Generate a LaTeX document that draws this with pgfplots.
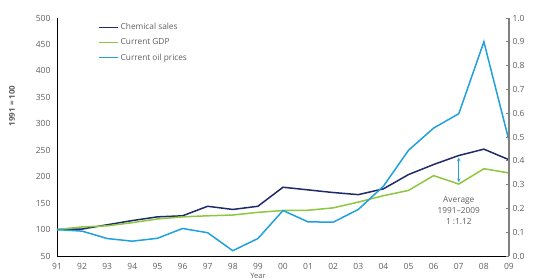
\documentclass[border=0pt]{standalone}
\usepackage{pgfplots}
\pgfplotsset{compat=1.18}
\usepackage{fontspec}
\setmainfont{Open Sans}
\definecolor{navy}{RGB}{31,42,104}
\definecolor{lgreen}{RGB}{141,198,63}
\definecolor{lblue}{RGB}{32,160,220}
\definecolor{txt}{RGB}{95,95,95}
\begin{document}
\begin{tikzpicture}
\useasboundingbox (0pt,0pt) rectangle (533pt,280pt);
\begin{axis}[
  at={(57pt,24pt)}, anchor=south west,
  width=452pt, height=238pt, scale only axis,
  xmin=1991, xmax=2009, ymin=50, ymax=500,
  xtick={1991,...,2009},
  xticklabels={91,92,93,94,95,96,97,98,99,00,01,02,03,04,05,06,07,08,09},
  ytick={50,100,...,500},
  axis x line*=bottom, axis y line*=left,
  axis line style={black, line width=0.8pt},
  every outer x axis line/.append style={-},
  every outer y axis line/.append style={-},
  major tick length=0pt,
  tick label style={font=\fontsize{8.5}{10}\selectfont, text=txt},
  /pgf/number format/assume math mode=true,
  yticklabel style={xshift=-3pt},
  xticklabel style={yshift=-4pt},
  legend style={at={(0.084,0.995)}, anchor=north west, draw=none, fill=none,
    font=\fontsize{8.3}{9}\selectfont, text=txt, row sep=3.5pt,
    legend cell align=left},
  legend image code/.code={\draw[#1, line width=1.5pt] (0,0) -- (19pt,0);},
  clip=false,
]
\addplot[navy, line width=1.5pt] coordinates {
(1991,100)(1992,101)(1993,109)(1994,117)(1995,124)(1996,126)(1997,144)(1998,138)(1999,144)(2000,180)(2001,175)(2002,170)(2003,166)(2004,177)(2005,204)(2006,223)(2007,240)(2008,252)(2009,232)};
\addlegendentry{Chemical sales}
\addplot[lgreen, line width=1.5pt] coordinates {
(1991,100)(1992,105)(1993,107)(1994,113)(1995,120)(1996,124)(1997,126)(1998,127.5)(1999,132.5)(2000,136)(2001,136.5)(2002,141)(2003,152)(2004,164)(2005,174)(2006,202)(2007,186)(2008,215)(2009,207)};
\addlegendentry{Current GDP}
\addplot[lblue, line width=1.5pt] coordinates {
(1991,100)(1992,97)(1993,83)(1994,78)(1995,83.5)(1996,102)(1997,94)(1998,60)(1999,83)(2000,136)(2001,114.5)(2002,114)(2003,138)(2004,182)(2005,250)(2006,292)(2007,319)(2008,455)(2009,268)};
\addlegendentry{Current oil prices}
\draw[lblue, line width=0.6pt, <->, >=stealth] (axis cs:2007,190) -- (axis cs:2007,236);
\node[align=center, font=\fontsize{8.3}{10.8}\selectfont, text=txt] at (axis cs:2007,136) {Average\\1991--2009\\1 :1.12};
\end{axis}
\begin{axis}[
  at={(57pt,24pt)}, anchor=south west,
  width=452pt, height=238pt, scale only axis,
  xmin=1991, xmax=2009, ymin=0, ymax=1,
  hide x axis,
  axis y line*=right,
  axis line style={gray, line width=1.2pt},
  every outer y axis line/.append style={-},
  ytick={0,0.1,...,1.0},
  ytick style={gray, line width=0.8pt},
  major tick length=3pt,
  y tick label style={/pgf/number format/.cd, fixed, fixed zerofill, precision=1},
  tick label style={font=\fontsize{8.5}{10}\selectfont, text=txt},
  /pgf/number format/assume math mode=true,
]
\addplot[draw=none] coordinates {(1991,0)(2009,1)};
\end{axis}
\node[rotate=90, font=\fontsize{8}{10}\selectfont\bfseries, text=txt] at (12pt,174pt) {1991 = 100};
\node[anchor=south, inner sep=0.5pt, font=\fontsize{7.5}{8}\selectfont, text=txt] at (258pt,0.5pt) {Year};
\end{tikzpicture}
\end{document}
